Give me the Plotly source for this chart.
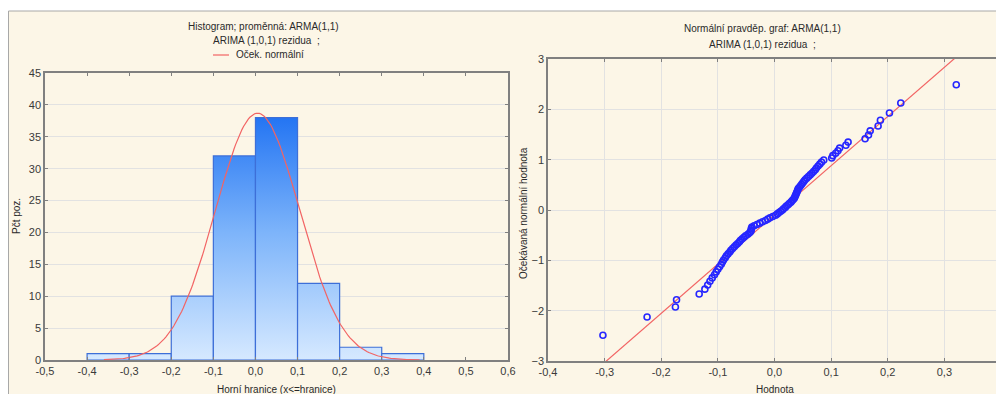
import numpy as np
import plotly.graph_objects as go

# ---------------- data ----------------
bin_left = [-0.4, -0.3, -0.2, -0.1, 0.0, 0.1, 0.2, 0.3]
bin_right = [-0.3, -0.2, -0.1, 0.0, 0.1, 0.2, 0.3, 0.4]
bin_counts = [1, 1, 10, 32, 38, 12, 2, 1]

norm_mean = 0.005
norm_sd = 0.1
n_obs = 97
bin_width = 0.1

hist_xticks = [-0.5, -0.4, -0.3, -0.2, -0.1, 0.0, 0.1, 0.2, 0.3, 0.4, 0.5, 0.6]
hist_xtick_text = ["-0,5", "-0,4", "-0,3", "-0,2", "-0,1", "0,0", "0,1", "0,2", "0,3", "0,4", "0,5", "0,6"]
hist_yticks = [0, 5, 10, 15, 20, 25, 30, 35, 40, 45]

# normal probability plot: sorted residuals and expected normal values
qq_residual = [
    -0.303, -0.225, -0.175, -0.173, -0.133, -0.123, -0.118, -0.114, -0.110, -0.106,
    -0.103, -0.100, -0.097, -0.094, -0.092, -0.090, -0.087, -0.085, -0.082, -0.079,
    -0.077, -0.074, -0.071, -0.068, -0.065, -0.062, -0.060, -0.057, -0.054, -0.051,
    -0.047, -0.044, -0.042, -0.041, -0.041, -0.040, -0.036, -0.031, -0.026, -0.021,
    -0.016, -0.012, -0.008, -0.003, 0.002, 0.005, 0.008, 0.011, 0.014, 0.016,
    0.019, 0.021, 0.024, 0.026, 0.029, 0.031, 0.033, 0.035, 0.036, 0.037,
    0.038, 0.039, 0.040, 0.041, 0.042, 0.044, 0.046, 0.048, 0.050, 0.052,
    0.054, 0.057, 0.060, 0.063, 0.066, 0.069, 0.072, 0.074, 0.077, 0.080,
    0.083, 0.087, 0.101, 0.103, 0.108, 0.112, 0.115, 0.126, 0.130, 0.160,
    0.166, 0.169, 0.183, 0.187, 0.203, 0.223, 0.321,
]
qq_expected = [
    -2.489, -2.127, -1.927, -1.783, -1.669, -1.573, -1.490, -1.416, -1.349, -1.287,
    -1.230, -1.177, -1.127, -1.080, -1.034, -0.992, -0.951, -0.911, -0.872, -0.835,
    -0.799, -0.764, -0.731, -0.697, -0.665, -0.633, -0.601, -0.571, -0.541, -0.511,
    -0.482, -0.453, -0.425, -0.397, -0.369, -0.341, -0.314, -0.287, -0.261, -0.234,
    -0.208, -0.182, -0.156, -0.129, -0.103, -0.077, -0.052, -0.026, 0.0, 0.026,
    0.052, 0.077, 0.103, 0.129, 0.156, 0.182, 0.208, 0.234, 0.261, 0.287,
    0.314, 0.341, 0.369, 0.397, 0.425, 0.453, 0.482, 0.511, 0.541, 0.571,
    0.601, 0.633, 0.665, 0.697, 0.731, 0.764, 0.799, 0.835, 0.872, 0.911,
    0.951, 0.992, 1.034, 1.080, 1.127, 1.177, 1.230, 1.287, 1.349, 1.416,
    1.490, 1.573, 1.669, 1.783, 1.927, 2.127, 2.489,
]
qq_line_mean = 0.010
qq_line_sd = 0.1023
qq_line_z = [-3.5, 3.5]

qq_xticks = [-0.4, -0.3, -0.2, -0.1, 0.0, 0.1, 0.2, 0.3, 0.4]
qq_xtick_text = ["-0,4", "-0,3", "-0,2", "-0,1", "0,0", "0,1", "0,2", "0,3", "0,4"]
qq_yticks = [-3, -2, -1, 0, 1, 2, 3]

# ---------------- figure ----------------
# the page body has an 8px margin, so the figure starts at (8, 8) in the window
OFF = 8
W, H = 996, 386
FONT = "Liberation Sans, Arial, sans-serif"
TXT = "#2a2a2a"
FRAME = "#808080"
GRID = "#e2e2e2"

def px(x):
    return (x - OFF) / W

def py(y):
    return 1 - (y - OFF) / H

fig = go.Figure()

# histogram bars (gradient fill, global vertical gradient)
for l, r, c in zip(bin_left, bin_right, bin_counts):
    fig.add_trace(go.Scatter(
        x=[l, l, r, r, l], y=[0, c, c, 0, 0],
        mode="lines", fill="toself",
        fillgradient=dict(type="vertical",
                          colorscale=[[0, "#d6e9ff"], [0.5, "#7db4fa"], [1, "#1a6ef2"]],
                          start=0, stop=40),
        line=dict(color="#3d6fd8", width=1.2),
        hoverinfo="skip", showlegend=False, xaxis="x", yaxis="y",
    ))

# expected normal curve
cx = np.linspace(-0.36, 0.39, 200)
cy = n_obs * bin_width / (norm_sd * np.sqrt(2 * np.pi)) * np.exp(-0.5 * ((cx - norm_mean) / norm_sd) ** 2)
fig.add_trace(go.Scatter(x=cx, y=cy, mode="lines",
                         line=dict(color="#f26464", width=1.2),
                         showlegend=False, xaxis="x", yaxis="y"))

# QQ plot line
lz = np.array(qq_line_z)
fig.add_trace(go.Scatter(x=qq_line_mean + qq_line_sd * lz, y=lz, mode="lines",
                         line=dict(color="#f26464", width=1.2),
                         showlegend=False, xaxis="x2", yaxis="y2"))
# QQ points
fig.add_trace(go.Scatter(x=qq_residual, y=qq_expected, mode="markers",
                         marker=dict(symbol="circle-open", size=6, color="#2626ff",
                                     line=dict(width=1.6, color="#2626ff")),
                         showlegend=False, xaxis="x2", yaxis="y2", cliponaxis=False))

axis_common = dict(
    showline=True, linecolor=FRAME, linewidth=1.5, mirror="ticks",
    ticks="inside", ticklen=3, tickcolor=FRAME, zeroline=False, automargin=False,
    tickfont=dict(family=FONT, size=11, color="#3a3a3a"),
)

fig.update_layout(
    width=W, height=H,
    margin=dict(l=0, r=0, t=0, b=0, autoexpand=False),
    paper_bgcolor="white",
    plot_bgcolor="white",
    font=dict(family=FONT, size=10, color=TXT),
    xaxis=dict(domain=[px(45), px(508)], range=[-0.5, 0.6], anchor="y",
               tickvals=hist_xticks, ticktext=hist_xtick_text, showgrid=False,
               **axis_common),
    yaxis=dict(domain=[py(360), py(73)], range=[0, 45], anchor="x",
               tickvals=hist_yticks, showgrid=True, gridcolor=GRID, gridwidth=1,
               **axis_common),
    xaxis2=dict(domain=[px(548), px(1001)], range=[-0.4, 0.4], anchor="y2",
                tickvals=qq_xticks, ticktext=qq_xtick_text, showgrid=True,
                gridcolor=GRID, gridwidth=1, **axis_common),
    yaxis2=dict(domain=[py(361), py(59)], range=[-3, 3], anchor="x2",
                tickvals=qq_yticks, showgrid=True, gridcolor=GRID, gridwidth=1,
                **axis_common),
)

# beige panel behind everything
fig.add_shape(type="rect", xref="paper", yref="paper",
              x0=px(8.5), x1=1.02, y0=-0.05, y1=py(11),
              fillcolor="#fcf6e7", line=dict(color="#a8a8a8", width=1), layer="below")

# legend for the normal curve
fig.add_shape(type="line", xref="paper", yref="paper",
              x0=px(213), x1=px(229), y0=py(55), y1=py(55),
              line=dict(color="#f26464", width=1.2))

def ann(text, x, y, size=10, xanchor="center", yanchor="middle", angle=0):
    fig.add_annotation(text=text, x=px(x), y=py(y), xref="paper", yref="paper",
                       showarrow=False, xanchor=xanchor, yanchor=yanchor,
                       textangle=angle, font=dict(family=FONT, size=size, color=TXT))

ann("Histogram; proměnná: ARMA(1,1)", 264, 27)
ann("ARIMA (1,0,1) rezidua&nbsp;&nbsp;;", 266, 41)
ann("Oček. normální", 234, 55, xanchor="left")
ann("Normální pravděp. graf: ARMA(1,1)", 762, 29)
ann("ARIMA (1,0,1) rezidua&nbsp;&nbsp;;", 762, 44)
ann("Pčt poz.", 16, 216, angle=-90)
ann("Očekávaná normální hodnota", 523, 213, angle=-90)
ann("Horní hranice (x<=hranice)", 276, 382, yanchor="top")
ann("Hodnota", 775, 382, yanchor="top")

fig.write_html("out.html")
